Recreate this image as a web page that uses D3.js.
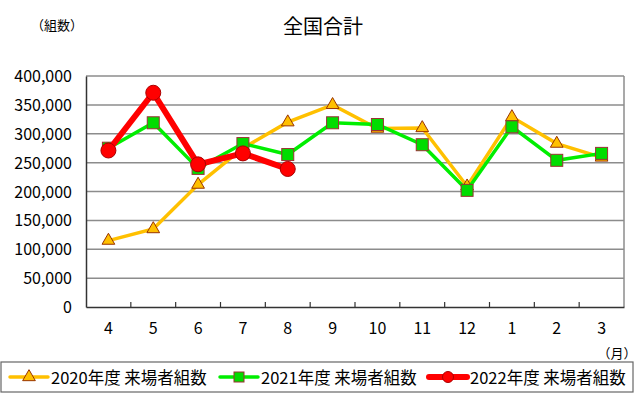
<!DOCTYPE html>
<html><head><meta charset="utf-8">
<script src="https://cdn.jsdelivr.net/npm/d3@7"></script>
<style>body{margin:0;background:#fff}svg{display:block}text{font-family:"Noto Sans CJK JP","Noto Sans",sans-serif;fill:#000}</style>
</head><body>
<svg id="c" width="640" height="397"></svg>
<script>
const months = ["4","5","6","7","8","9","10","11","12","1","2","3"];
const yTicks = [0,50000,100000,150000,200000,250000,300000,350000,400000];
const s2020 = [115000,135000,212000,275000,320000,350000,309000,310000,209000,329000,283000,259000];
const s2021 = [275000,319000,240000,283000,264000,319000,316000,281000,202000,312000,254000,266000];
const s2022 = [271000,371000,247000,266000,239000];
const names = ["2020年度 来場者組数","2021年度 来場者組数","2022年度 来場者組数"];

const svg = d3.select("#c");
const L=86,R=624,T=76,B=307;
const x = d3.scaleBand().domain(months).range([L,R]);
const y = d3.scaleLinear().domain([0,400000]).range([B,T]);
const fmt = d3.format(",");

svg.append("text").attr("x",323).attr("y",34).attr("text-anchor","middle").attr("font-size",20).text("全国合計");
svg.append("text").attr("x",57).attr("y",30).attr("text-anchor","middle").attr("font-size",13).text("（組数）");

// gridlines
svg.append("g").selectAll("line").data(yTicks.filter(d=>d>0)).join("line")
 .attr("x1",L).attr("x2",R).attr("y1",d=>y(d)).attr("y2",d=>y(d))
 .attr("stroke","#8c8c8c").attr("stroke-width",1.5);
svg.append("line").attr("x1",R).attr("x2",R).attr("y1",T).attr("y2",B).attr("stroke","#8c8c8c").attr("stroke-width",1.5);

// y axis
const ya = svg.append("g").attr("transform",`translate(${L},0)`).call(d3.axisLeft(y).tickValues(yTicks).tickFormat(fmt).tickSize(0).tickPadding(14));
ya.select(".domain").attr("stroke","#333").attr("stroke-width",1.5);
ya.selectAll("text").attr("font-size",16).attr("font-family","'Liberation Sans',Arial,sans-serif").attr("dy","0.35em");

// x axis
const xa = svg.append("g").attr("transform",`translate(0,${B})`).call(d3.axisBottom(x).tickSize(0).tickPadding(16));
xa.select(".domain").attr("stroke","#333").attr("stroke-width",1.5);
xa.selectAll("text").attr("font-size",16).attr("font-family","'Liberation Sans',Arial,sans-serif").attr("dy","0.71em");
svg.append("g").selectAll("line").data(months.slice(1)).join("line")
 .attr("x1",d=>x(d)).attr("x2",d=>x(d)).attr("y1",B).attr("y2",B-5).attr("stroke","#333").attr("stroke-width",1.2);

svg.append("text").attr("x",617).attr("y",358).attr("text-anchor","middle").attr("font-size",13).text("（月）");

const cx = (d,i)=>x(months[i])+x.bandwidth()/2;
const line = d3.line().x((d,i)=>cx(d,i)).y(d=>y(d));
const tri = d3.symbol().type(d3.symbolTriangle).size(70);

// 2020
svg.append("path").datum(s2020).attr("d",line).attr("fill","none").attr("stroke","#FFC000").attr("stroke-width",3.5);
svg.append("g").selectAll("path").data(s2020).join("path").attr("d",tri)
 .attr("transform",(d,i)=>`translate(${cx(d,i)},${y(d)})`).attr("fill","#FFC000").attr("stroke","#993300").attr("stroke-width",1);
// 2021
svg.append("path").datum(s2021).attr("d",line).attr("fill","none").attr("stroke","#00EE00").attr("stroke-width",3.5);
svg.append("g").selectAll("rect").data(s2021).join("rect")
 .attr("x",(d,i)=>cx(d,i)-6).attr("y",d=>y(d)-6).attr("width",12).attr("height",12)
 .attr("fill","#00DD00").attr("stroke","#993333").attr("stroke-width",1);
// 2022
svg.append("path").datum(s2022).attr("d",line).attr("fill","none").attr("stroke","#FF0000").attr("stroke-width",6).attr("stroke-linejoin","round");
svg.append("g").selectAll("circle").data(s2022).join("circle")
 .attr("cx",(d,i)=>cx(d,i)).attr("cy",d=>y(d)).attr("r",7.5)
 .attr("fill","#FF0000").attr("stroke","#AA0000").attr("stroke-width",1);

// legend
svg.append("rect").attr("x",1).attr("y",362).attr("width",632).attr("height",30).attr("fill","#fff").attr("stroke","#666").attr("stroke-width",1.2);
const lg = [{x:10,c:"#FFC000",w:3.5,m:"tri"},{x:220,c:"#00EE00",w:3.5,m:"sq"},{x:429,c:"#FF0000",w:6,m:"ci"}];
lg.forEach((o,i)=>{
  svg.append("line").attr("x1",o.x).attr("x2",o.x+38).attr("y1",377).attr("y2",377).attr("stroke",o.c).attr("stroke-width",o.w).attr("stroke-linecap","round");
  const mx=o.x+19;
  if(o.m==="tri") svg.append("path").attr("d",tri).attr("transform",`translate(${mx},377)`).attr("fill","#FFC000").attr("stroke","#993300");
  if(o.m==="sq") svg.append("rect").attr("x",mx-5).attr("y",372).attr("width",10).attr("height",10).attr("fill","#00DD00").attr("stroke","#993333");
  if(o.m==="ci") svg.append("circle").attr("cx",mx).attr("cy",377).attr("r",5.5).attr("fill","#FF0000").attr("stroke","#AA0000");
  svg.append("text").attr("x",o.x+41).attr("y",384).attr("font-size",16.5).text(names[i]);
});
</script>
</body></html>
